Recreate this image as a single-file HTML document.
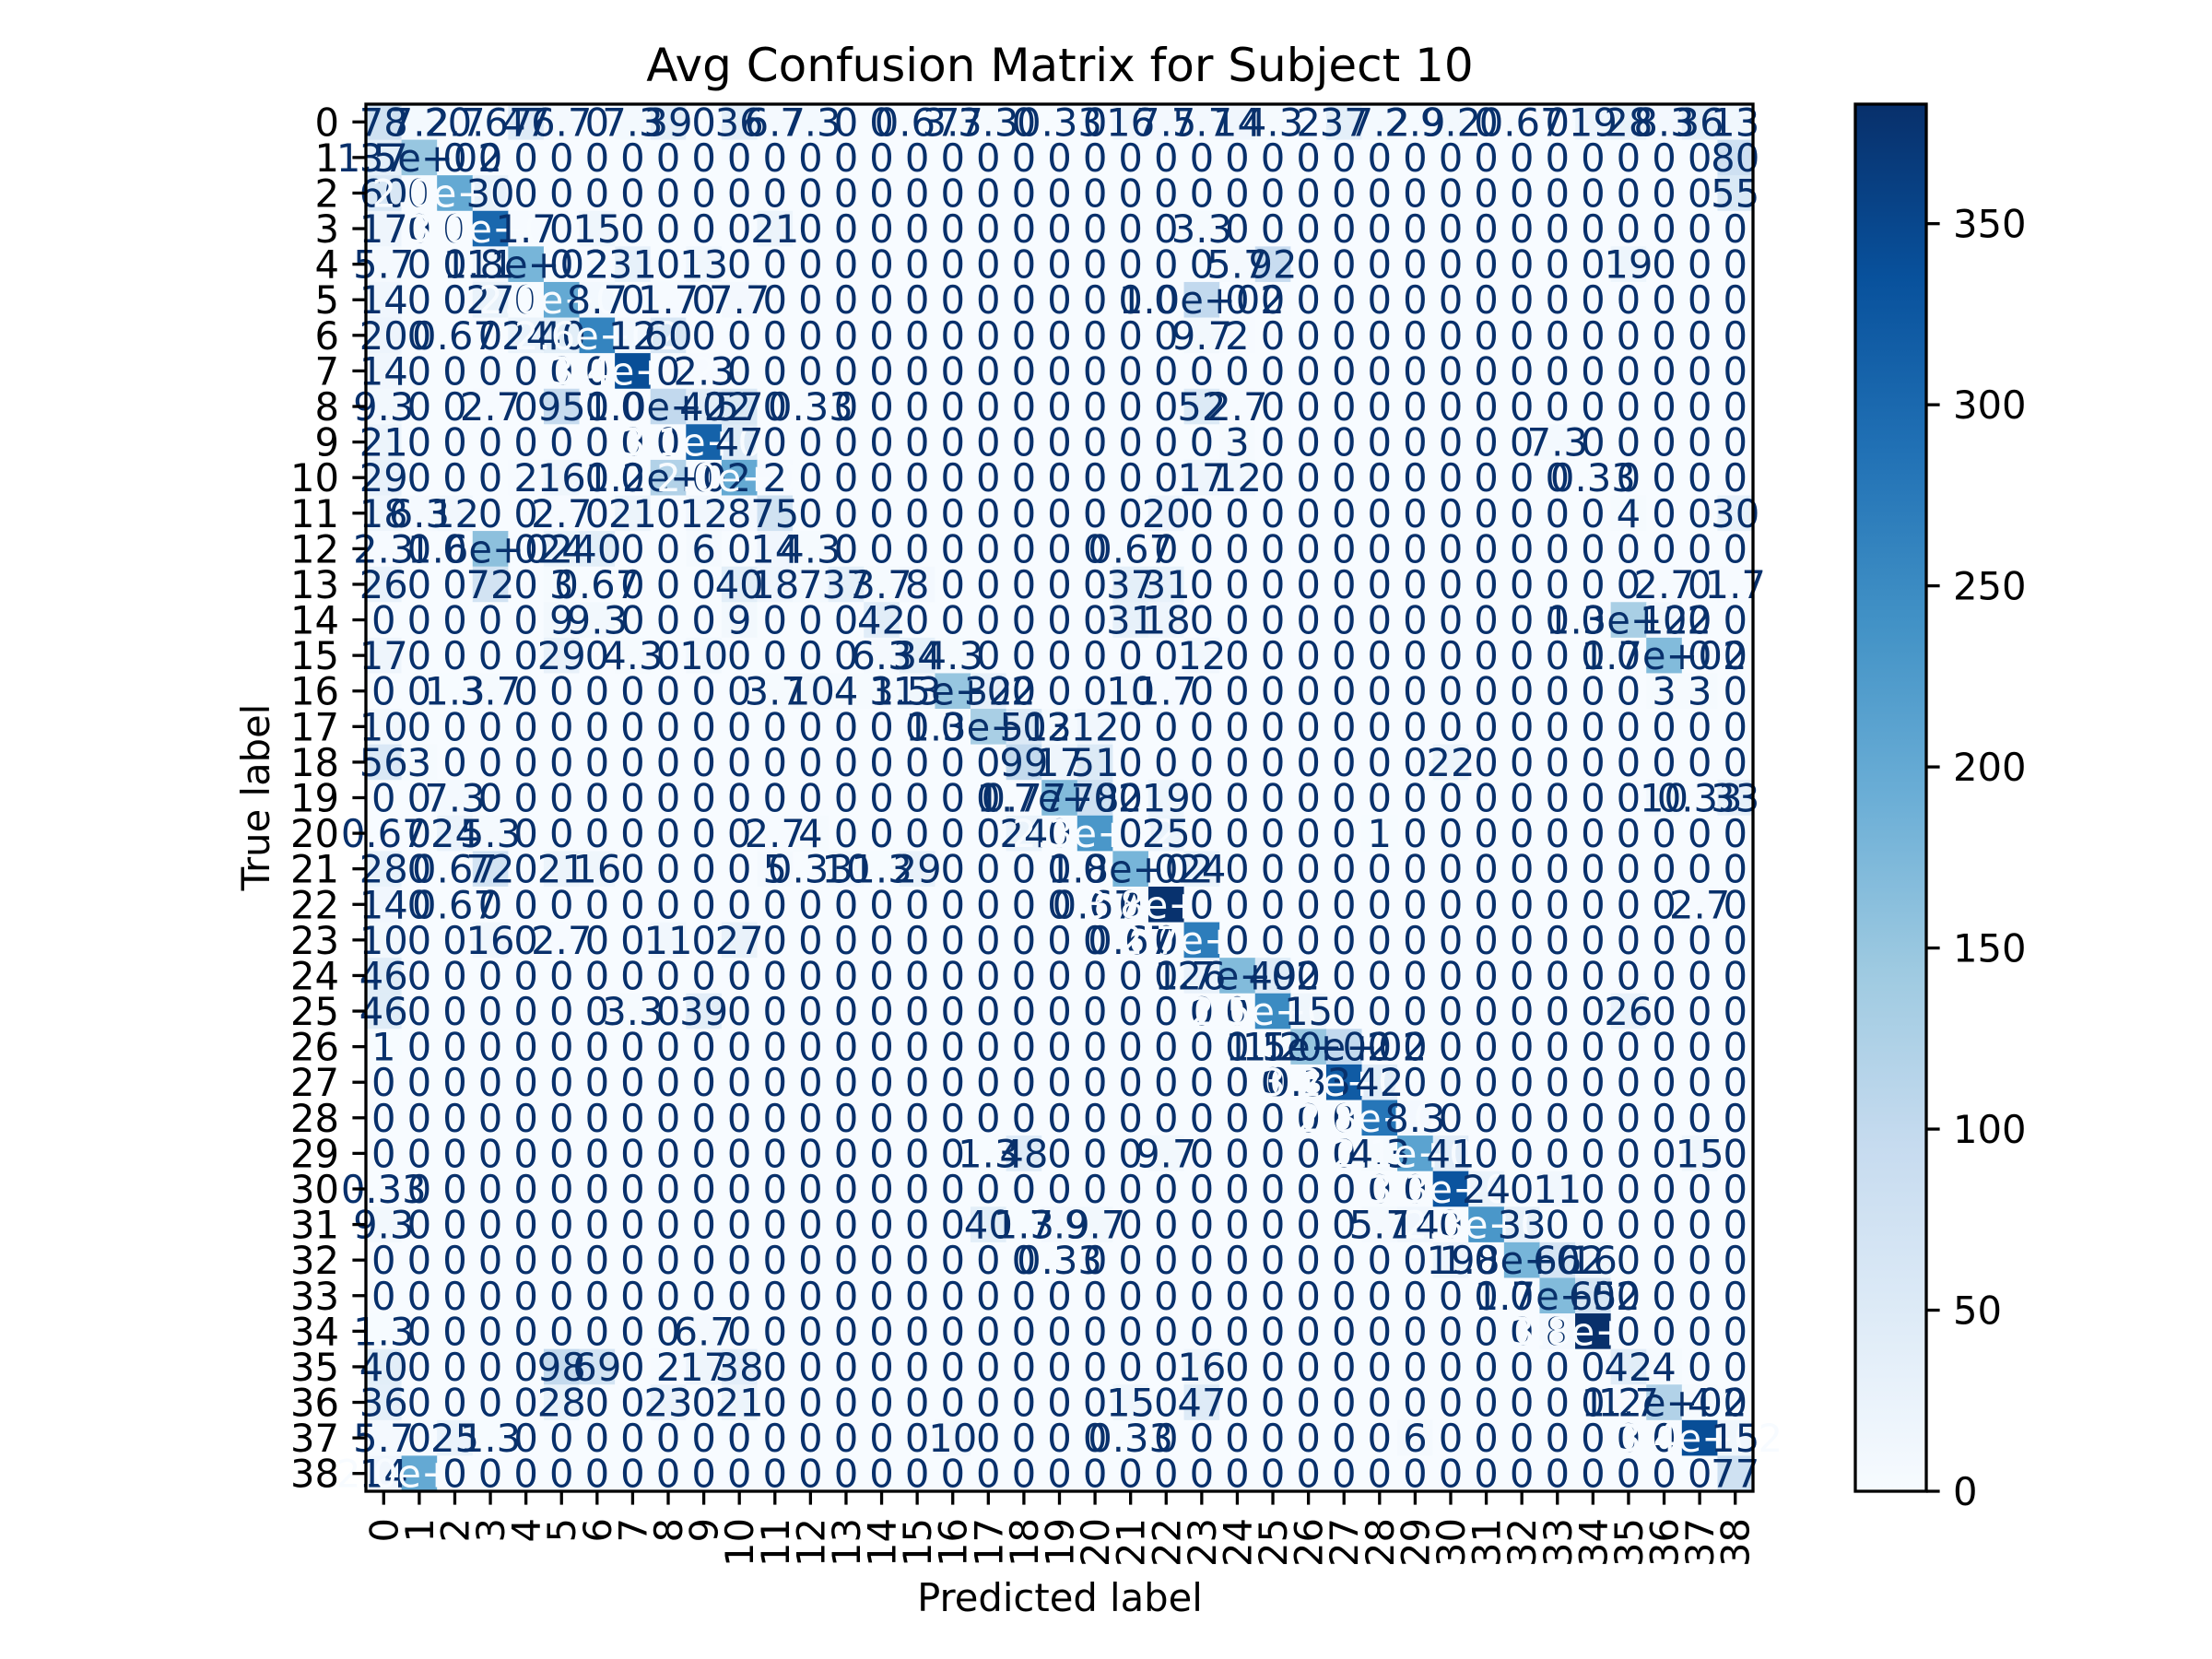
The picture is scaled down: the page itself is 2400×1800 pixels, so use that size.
<!DOCTYPE html>
<html><head><meta charset="utf-8"><title>Avg Confusion Matrix for Subject 10</title>
<style>
html,body{margin:0;padding:0;background:#fff;}
svg{display:block;font-family:"DejaVu Sans","Liberation Sans",sans-serif;}
</style></head>
<body>
<svg id="chart" width="2400" height="1800" viewBox="0 0 2400 1800" xmlns="http://www.w3.org/2000/svg">
<defs>
<linearGradient id="bluesGrad" x1="0" y1="1" x2="0" y2="0">
<stop offset="0" stop-color="#f7fbff"/><stop offset="0.125" stop-color="#deebf7"/><stop offset="0.25" stop-color="#c6dbef"/><stop offset="0.375" stop-color="#9ecae1"/><stop offset="0.5" stop-color="#6baed6"/><stop offset="0.625" stop-color="#4292c6"/><stop offset="0.75" stop-color="#2171b5"/><stop offset="0.875" stop-color="#08519c"/><stop offset="1" stop-color="#08306b"/>
</linearGradient>
</defs>
<rect width="2400" height="1800" fill="#fff"/>
<text x="1150" y="88" font-size="50" text-anchor="middle">Avg Confusion Matrix for Subject 10</text>
<g id="cells"></g>
<g id="labels"></g>
<rect x="397" y="113" width="1505" height="1505" fill="none" stroke="#000" stroke-width="3.3"/>
<g id="yticks"></g>
<g id="xticks"></g>
<text x="0" y="0" font-size="41.7" text-anchor="middle" transform="translate(292,865) rotate(-90)">True label</text>
<text x="1150" y="1748" font-size="41.7" text-anchor="middle">Predicted label</text>
<rect x="2013" y="113" width="77" height="1505" fill="url(#bluesGrad)" stroke="#000" stroke-width="3.3"/>
<g id="cbticks"></g>
</svg>
<script>
const categories = Array.from({length: 39}, (_, i) => String(i));
const colorbarTicks = [0, 50, 100, 150, 200, 250, 300, 350];
const colorMax = 383;
const row0 = {0:78,1:7.2,2:2.7,3:0.67,4:47,5:6.7,7:7.3,8:39,10:36,11:6.7,12:7.3,15:0.67,16:3.7,17:3.3,19:0.33,21:16,22:7.5,23:7.7,24:14,25:4.3,26:2,27:37,28:7.2,29:2.9,30:9.2,32:0.67,34:19,35:28,36:8.3,37:36,38:13};
const sparseRows = [
 row0,
 {0:37,1:150,38:80},
 {0:60,2:200,3:30,38:55},
 {0:17,3:300,4:1.7,6:15,11:21,23:3.3},
 {0:5.7,3:11,4:180,6:2,7:31,9:13,24:5.7,25:92,35:19},
 {0:14,3:27,5:200,6:8.7,8:1.7,10:7.7,23:100},
 {0:20,2:0.67,4:24,5:40,6:260,7:12,8:60,23:9.7,24:2},
 {0:14,7:340,9:2.3},
 {0:9.3,3:2.7,5:95,8:100,9:42,10:57,12:0.33,23:52,24:2.7},
 {0:21,9:310,10:47,24:3,33:7.3},
 {0:29,4:2,5:16,8:120,10:200,11:2,23:17,24:12,34:0.33},
 {0:18,1:6.3,2:12,5:2.7,7:21,9:12,10:8,11:75,22:20,35:4,38:30},
 {0:2.3,3:160,5:24,6:40,9:6,11:14,12:4.3,21:0.67},
 {0:26,3:72,5:3,6:0.67,10:40,11:18,12:7,13:37,14:3.7,15:8,21:37,22:31,36:2.7,38:1.7},
 {5:9,6:9.3,10:9,14:42,21:31,22:18,35:130,36:12},
 {0:17,5:29,7:4.3,9:10,14:6.3,15:34,16:4.3,23:12,36:170},
 {2:1.3,3:3.7,11:3.7,12:10,13:4,14:3,15:13,16:150,17:32,21:10,22:1.7,36:3,37:3},
 {0:10,17:130,18:51,19:3,20:12},
 {0:56,1:3,18:99,19:17,20:51,30:22},
 {2:7.3,18:0.77,19:170,20:78,22:19,36:10,37:0.33,38:33},
 {0:0.67,2:24,3:5.3,11:2.7,12:4,18:24,20:230,22:25,28:1},
 {0:28,2:0.67,3:72,5:21,6:16,11:5,12:0.33,13:10,14:1.3,15:29,21:180,23:24},
 {0:14,2:0.67,20:0.67,22:380,37:2.7},
 {0:10,3:16,5:2.7,8:11,10:27,21:0.67,23:270},
 {0:46,23:26,24:170,25:49},
 {0:46,7:3.3,9:39,25:250,26:15,35:26},
 {0:1,25:1.2,26:150,27:100},
 {26:0.33,27:320,28:42},
 {28:280,29:8.3},
 {17:1.3,18:48,22:9.7,28:4.3,29:210,30:41,37:15},
 {0:0.33,30:330,31:24,33:11},
 {0:9.3,17:40,18:1.3,19:7.9,20:9.7,28:5.7,29:14,31:230,32:33},
 {19:0.33,30:19,32:180,33:66,34:16},
 {33:170,34:65},
 {0:1.3,9:6.7,33:8,34:383},
 {0:40,5:98,6:69,8:2,9:17,10:38,23:16,35:42,36:4},
 {0:36,5:28,8:23,10:21,21:15,23:47,35:1.7,36:120,37:4},
 {0:5.7,2:25,3:1.3,16:10,21:0.33,29:6,37:340,38:15},
 {0:14,1:200,38:77}
];

const NS = 'http://www.w3.org/2000/svg';
const plotLeft = 397, plotTop = 113, plotSize = 1505;
const nCat = categories.length;
const cellSize = plotSize / nCat;
const xPos = i => plotLeft + i * cellSize;
const yPos = i => plotTop + i * cellSize;
const cbY = v => plotTop + plotSize - (v / colorMax) * plotSize;
const stopsRGB = ['#f7fbff','#deebf7','#c6dbef','#9ecae1','#6baed6','#4292c6','#2171b5','#08519c','#08306b'].map(h => [parseInt(h.slice(1,3),16),parseInt(h.slice(3,5),16),parseInt(h.slice(5,7),16)]);
function blues(t){
  t = Math.max(0, Math.min(1, t)) * 8;
  const i = Math.min(7, Math.floor(t)), f = t - i;
  const c = stopsRGB[i].map((a, k) => Math.round(a + (stopsRGB[i+1][k] - a) * f));
  return 'rgb(' + c.join(',') + ')';
}
function fmt(v){
  if (v === 0) return '0';
  if (v >= 100) { const s = v.toExponential(1).split('e+'); return s[0] + 'e+' + (s[1].length < 2 ? '0' + s[1] : s[1]); }
  return String(parseFloat(v.toPrecision(2)));
}
const matrix = sparseRows.map(r => categories.map((_, j) => r[j] || 0));
let vmin = Infinity, vmax = -Infinity;
matrix.forEach(r => r.forEach(v => { vmin = Math.min(vmin, v); vmax = Math.max(vmax, v); }));
const thresh = (vmax + vmin) / 2;

const gCells = document.getElementById('cells');
const gLabels = document.getElementById('labels');
matrix.forEach((r, i) => r.forEach((v, j) => {
  const rect = document.createElementNS(NS, 'rect');
  rect.setAttribute('x', xPos(j)); rect.setAttribute('y', yPos(i));
  rect.setAttribute('width', cellSize + 0.6); rect.setAttribute('height', cellSize + 0.6);
  rect.setAttribute('fill', blues((v - vmin) / (vmax - vmin)));
  
  
  gCells.appendChild(rect);
}));
matrix.forEach((r, i) => r.forEach((v, j) => {
  const t = document.createElementNS(NS, 'text');
  t.setAttribute('x', xPos(j) + cellSize / 2); t.setAttribute('y', yPos(i) + cellSize / 2 + 15);
  t.setAttribute('font-size', '41.7'); t.setAttribute('text-anchor', 'middle');
  t.setAttribute('fill', v > thresh ? '#f7fbff' : '#08306b');
  t.textContent = fmt(v);
  
  
  gLabels.appendChild(t);
}));

const gy = document.getElementById('yticks');
const gx = document.getElementById('xticks');
categories.forEach((c, i) => {
  const cy = yPos(i) + cellSize / 2;
  const l = document.createElementNS(NS, 'line');
  l.setAttribute('x1', plotLeft - 14.6); l.setAttribute('x2', plotLeft); l.setAttribute('y1', cy); l.setAttribute('y2', cy);
  l.setAttribute('stroke', '#000'); l.setAttribute('stroke-width', '3.3');
  
  
  gy.appendChild(l);
  const t = document.createElementNS(NS, 'text');
  t.setAttribute('x', plotLeft - 29); t.setAttribute('y', cy + 15);
  t.setAttribute('font-size', '41.7'); t.setAttribute('text-anchor', 'end');
  t.textContent = c;
  
  
  gy.appendChild(t);

  const cx = xPos(i) + cellSize / 2;
  const lx = document.createElementNS(NS, 'line');
  lx.setAttribute('x1', cx); lx.setAttribute('x2', cx); lx.setAttribute('y1', plotTop + plotSize); lx.setAttribute('y2', plotTop + plotSize + 14.6);
  lx.setAttribute('stroke', '#000'); lx.setAttribute('stroke-width', '3.3');
  
  
  gx.appendChild(lx);
  const tx = document.createElementNS(NS, 'text');
  tx.setAttribute('x', 0); tx.setAttribute('y', 0);
  tx.setAttribute('font-size', '41.7'); tx.setAttribute('text-anchor', 'end');
  tx.setAttribute('transform', 'translate(' + (cx + 15) + ',' + (plotTop + plotSize + 29) + ') rotate(-90)');
  tx.textContent = c;
  
  
  gx.appendChild(tx);
});

const gcb = document.getElementById('cbticks');
colorbarTicks.forEach(v => {
  const y = cbY(v);
  const l = document.createElementNS(NS, 'line');
  l.setAttribute('x1', 2090); l.setAttribute('x2', 2104.6); l.setAttribute('y1', y); l.setAttribute('y2', y);
  l.setAttribute('stroke', '#000'); l.setAttribute('stroke-width', '3.3');
  
  
  gcb.appendChild(l);
  const t = document.createElementNS(NS, 'text');
  t.setAttribute('x', 2119); t.setAttribute('y', y + 15);
  t.setAttribute('font-size', '41.7');
  t.textContent = String(v);
  
  
  gcb.appendChild(t);
});
</script>
</body></html>
